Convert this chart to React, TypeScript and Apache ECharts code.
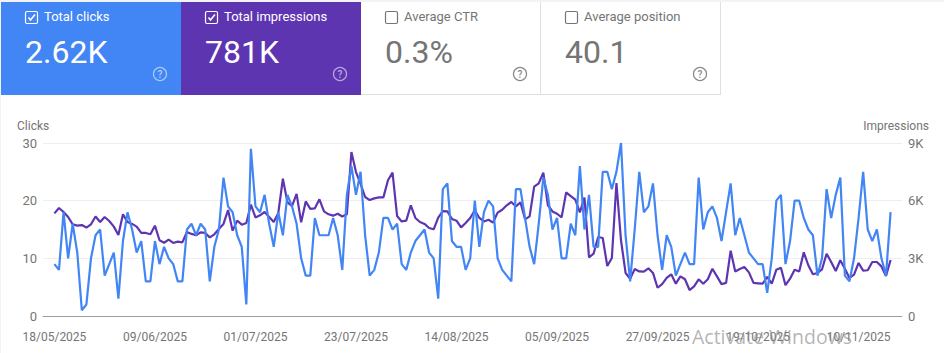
import React, { useEffect, useRef } from "react";
import * as echarts from "echarts";

const START_DATE = Date.UTC(2025, 4, 18);
const clicks = [
  9, 8, 18, 10, 16, 11, 1, 2, 10, 14, 15, 7, 9, 11, 3, 13, 18, 15, 11, 13, 6, 6, 13, 9, 12, 10, 9, 6, 6, 15,
  16, 14, 16, 15, 6, 12, 15, 24, 19, 18, 14, 12, 2, 29, 19, 18, 21, 16, 12, 18, 14, 21, 19, 16, 10, 7, 7, 17, 14, 14,
  14, 17, 14, 8, 21, 26, 21, 25, 14, 7, 8, 11, 17, 17, 15, 16, 9, 8, 11, 13, 14, 15, 11, 10, 3, 22, 23, 13, 12, 12,
  8, 10, 20, 12, 18, 20, 19, 10, 8, 7, 6, 22, 22, 17, 12, 9, 16, 24, 21, 15, 17, 10, 10, 16, 14, 26, 15, 21, 12, 12,
  25, 25, 22, 25, 30, 14, 6, 15, 25, 18, 19, 23, 14, 8, 14, 12, 7, 9, 11, 9, 9, 24, 15, 18, 19, 17, 13, 18, 23, 14,
  17, 14, 11, 10, 9, 9, 4, 10, 20, 21, 9, 13, 20, 20, 17, 15, 14, 7, 10, 22, 17, 21, 24, 7, 6, 10, 17, 25, 15, 13,
  15, 10, 7, 18,
];
const impressions = [
  5340, 5620, 5410, 5150, 4770, 4700, 4730, 4600, 4770, 5180, 4890, 5150, 4940, 4650, 4210, 5290, 4890, 4790, 4650, 4320,
  4320, 4250, 4700, 3940, 3810, 3970, 3800, 3870, 3830, 4370, 4270, 4200, 4350, 4320, 4090, 4250, 4530, 4790, 5510, 4440,
  4960, 4750, 4840, 5790, 5130, 5240, 5410, 5150, 4890, 5360, 7140, 5910, 5720, 6350, 4870, 5960, 5570, 5600, 6070, 5440,
  5290, 5220, 5320, 5180, 5290, 8530, 7490, 6880, 6190, 6030, 6120, 6170, 6170, 7060, 7460, 5200, 4920, 4960, 5760, 5100,
  4890, 4790, 4580, 4510, 5120, 5460, 5440, 5050, 4960, 4610, 4840, 5100, 5500, 5100, 4920, 5010, 4860, 5380, 5530, 5760,
  5930, 5700, 5910, 5030, 5180, 6730, 6900, 7460, 5760, 5440, 5320, 5130, 6430, 6240, 6050, 5390, 6160, 3050, 3240, 4110,
  4060, 2600, 3020, 6920, 3940, 2240, 1940, 2440, 2320, 2310, 2480, 2240, 1470, 1660, 1980, 2170, 1680, 2060, 1910, 1350,
  1540, 1910, 1680, 1910, 2460, 2060, 1660, 1720, 3400, 2320, 2440, 2550, 2270, 1720, 1700, 1680, 2030, 1680, 2410, 2510,
  1600, 1940, 2410, 2310, 3310, 2640, 2170, 2240, 2430, 3240, 2810, 2340, 2900, 2460, 1980, 2150, 2760, 2360, 2380, 2810,
  2810, 2580, 2080, 2910,
];
const tileLabels = ["Total clicks", "Total impressions", "Average CTR", "Average position"];
const tileValues = ["2.62K", "781K", "0.3%", "40.1"];
const tileChecked = [true, true, false, false];
const tileFills = ["#4285f4", "#5e35b1", "#ffffff", "#ffffff"];

const pad = (n: number) => String(n).padStart(2, "0");
const dateLabel = (i: number) => {
  const d = new Date(START_DATE + i * 86400000);
  return `${pad(d.getUTCDate())}/${pad(d.getUTCMonth() + 1)}/${d.getUTCFullYear()}`;
};
const PAD = [null, null];
const categories = ["", "", ...clicks.map((_, i) => dateLabel(i)), "", ""];
const FONT = "Roboto";
const TICK = "#757575";
const STRIP = "#f1f3f6";

function tileGraphics() {
  const out: any[] = [];
  const tileX = [1, 181, 361, 541];
  const tileW = 180;
  out.push({ type: "rect", silent: true, shape: { x: 0, y: 0, width: 944, height: 2 }, style: { fill: STRIP } });
  out.push({ type: "rect", silent: true, shape: { x: 0, y: 0, width: 1, height: 353 }, style: { fill: STRIP } });
  tileLabels.forEach((label, i) => {
    const on = tileChecked[i];
    const x = tileX[i];
    out.push({ type: "rect", silent: true, shape: { x, y: 2, width: tileW, height: 93 }, style: { fill: tileFills[i] } });
    if (!on) {
      out.push({ type: "line", silent: true, shape: { x1: x + tileW - 0.5, y1: 2, x2: x + tileW - 0.5, y2: 95 }, style: { stroke: "#e0e0e0", lineWidth: 1 } });
      out.push({ type: "line", silent: true, shape: { x1: x, y1: 94.5, x2: x + tileW, y2: 94.5 }, style: { stroke: "#e0e0e0", lineWidth: 1 } });
    }
    const fg = on ? "#ffffff" : "#757575";
    const boxStroke = on ? "#ffffff" : "#757575";
    out.push({ type: "rect", silent: true, shape: { x: x + 24.5, y: 11.5, width: 12, height: 12, r: 1.5 }, style: { fill: "transparent", stroke: boxStroke, lineWidth: 1.2 } });
    if (on) {
      out.push({ type: "polyline", silent: true, shape: { points: [[x + 27.5, 17.5], [x + 29.5, 20], [x + 34, 14.5]] }, style: { stroke: "#ffffff", lineWidth: 1.6, fill: "none" } });
    }
    out.push({ type: "text", silent: true, style: { x: x + 43, y: 16.5, text: label, fill: fg, font: `400 13px ${FONT}`, verticalAlign: "middle", align: "left" } });
    out.push({ type: "text", silent: true, style: { x: x + 24, y: 52, text: tileValues[i], fill: fg, font: `400 32px ${FONT}`, verticalAlign: "middle", align: "left" } });
    out.push({ type: "circle", silent: true, shape: { cx: x + 159, cy: 74, r: 6.5 }, style: { fill: "transparent", stroke: on ? "rgba(255,255,255,0.55)" : "#8a8a8a", lineWidth: 1.3 } });
    out.push({ type: "text", silent: true, style: { x: x + 159, y: 74.5, text: "?", fill: on ? "rgba(255,255,255,0.6)" : "#8a8a8a", font: `500 10px ${FONT}`, verticalAlign: "middle", align: "center" } });
  });
  out.push({ type: "text", silent: true, style: { x: 17, y: 125.5, text: "Clicks", fill: TICK, font: `400 12px ${FONT}`, verticalAlign: "middle", align: "left" } });
  out.push({ type: "text", silent: true, style: { x: 929, y: 125.5, text: "Impressions", fill: TICK, font: `400 12px ${FONT}`, verticalAlign: "middle", align: "right" } });
  out.push({ type: "text", silent: true, z: 100, style: { x: 692, y: 336, text: "Activate Windows", fill: "rgba(130,130,130,0.6)", font: `400 19.5px "Open Sans"`, verticalAlign: "middle", align: "left" } });
  return out;
}

export default function App() {
  const ref = useRef<HTMLDivElement>(null);
  useEffect(() => {
    if (!ref.current) return;
    const chart = echarts.init(ref.current, undefined, { renderer: "svg" });
    chart.setOption({
      animation: false,
      backgroundColor: "#ffffff",
      textStyle: { fontFamily: FONT },
      grid: { left: 43, right: 42, top: 143, bottom: 37, containLabel: false },
      graphic: tileGraphics(),
      xAxis: {
        type: "category",
        data: categories,
        boundaryGap: true,
        axisLine: { lineStyle: { color: "#9e9e9e", width: 1 } },
        axisTick: { show: false },
        splitLine: { show: false },
        axisLabel: {
          color: TICK,
          fontSize: 12,
          margin: 15,
          hideOverlap: false,
          interval: (i: number) => i >= 2 && (i - 2) % 22 === 0 && i < categories.length - 2,
        },
      },
      yAxis: [
        {
          type: "value",
          min: 0,
          max: 30,
          interval: 10,
          axisLine: { show: false },
          axisTick: { show: false },
          axisLabel: { color: TICK, fontSize: 13, margin: 6 },
          splitLine: { lineStyle: { color: "#eeeeee", width: 1 } },
        },
        {
          type: "value",
          min: 0,
          max: 9000,
          interval: 3000,
          axisLine: { show: false },
          axisTick: { show: false },
          axisLabel: {
            color: TICK,
            fontSize: 13,
            margin: 6,
            formatter: (v: number) => (v === 0 ? "0" : `${v / 1000}K`),
          },
          splitLine: { show: false },
        },
      ],
      series: [
        {
          name: "Impressions",
          type: "line",
          yAxisIndex: 1,
          data: [...PAD, ...impressions, ...PAD],
          showSymbol: false,
          connectNulls: false,
          z: 2,
          lineStyle: { color: "#5e35b1", width: 2.2 },
          itemStyle: { color: "#5e35b1" },
        },
        {
          name: "Clicks",
          type: "line",
          yAxisIndex: 0,
          data: [...PAD, ...clicks, ...PAD],
          showSymbol: false,
          connectNulls: false,
          z: 3,
          lineStyle: { color: "#4285f4", width: 2.2 },
          itemStyle: { color: "#4285f4" },
        },
      ],
    });
    return () => chart.dispose();
  }, []);
  return (
    <div
      ref={ref}
      style={{ position: "absolute", left: 0, top: 0, width: 944, height: 353, background: "#fff" }}
    />
  );
}
